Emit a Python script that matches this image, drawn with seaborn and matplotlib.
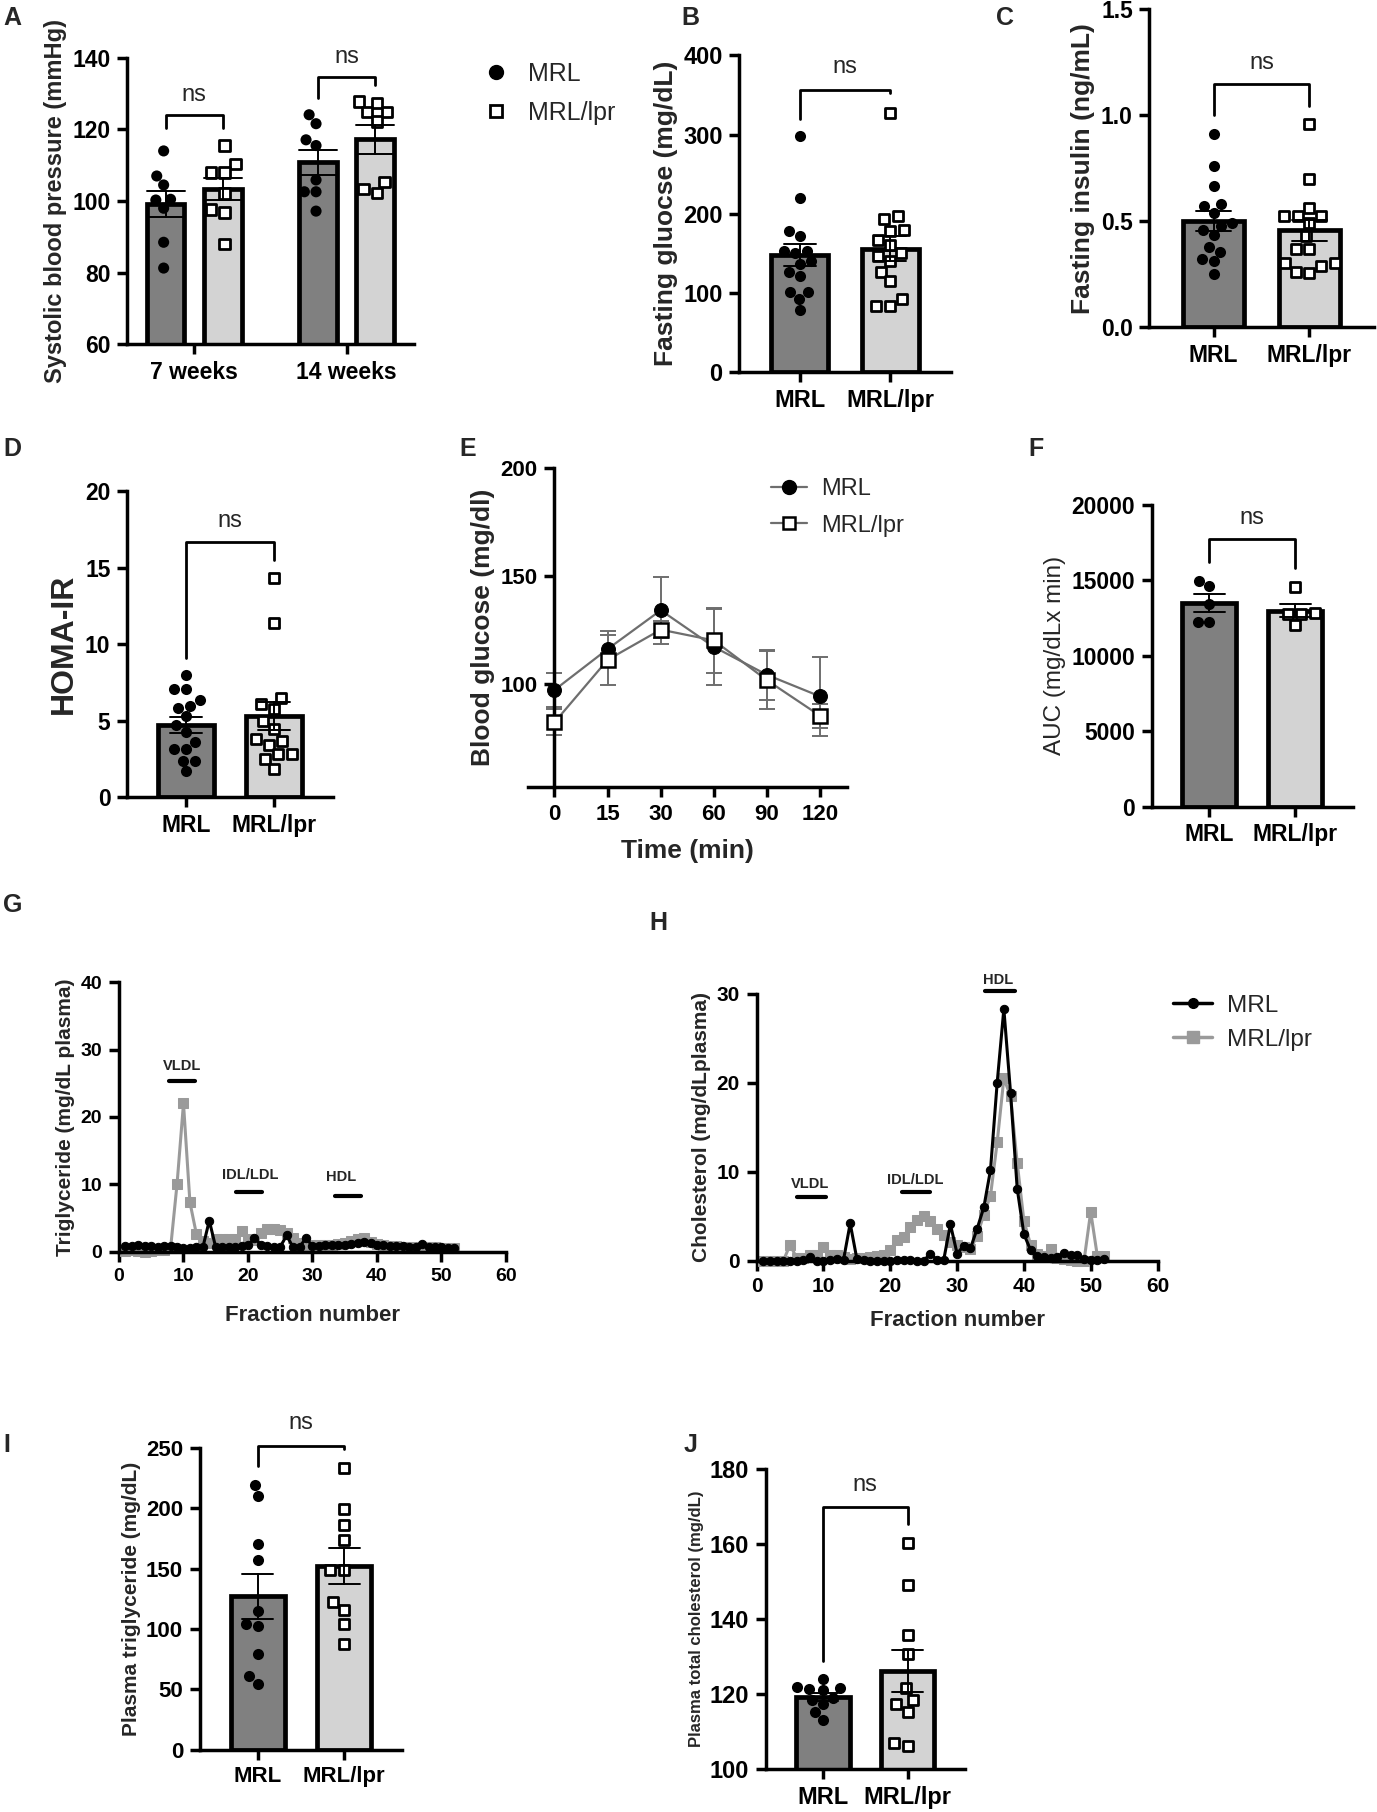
"""Recreation of the MRL vs MRL/lpr metabolic phenotype figure (panels A-J)"""

import numpy as np
import pandas as pd
import matplotlib
matplotlib.use('Agg')
import matplotlib.pyplot as plt
import seaborn as sns
from matplotlib import font_manager
from matplotlib.lines import Line2D

# ---- categories ----
groups = ['MRL', 'MRL/lpr']
weeks = ['7 weeks', '14 weeks']

# A: systolic blood pressure (mmHg)
bp_mrl_7wk = [114.0, 107.0, 104.5, 100.3, 100.5, 98.0, 88.5, 81.3]
bp_lpr_7wk = [115.5, 110.3, 108.0, 108.0, 102.1, 97.7, 96.8, 88.0]
bp_mrl_14wk = [124.1, 121.6, 117.1, 115.5, 105.9, 102.6, 102.6, 97.2]
bp_lpr_14wk = [127.8, 127.4, 124.8, 124.8, 122.2, 102.3, 105.4, 103.3]

# B: fasting glucose (mg/dL)
glucose_mrl = [298, 220, 178, 172, 153, 150, 153, 140, 137, 126, 101, 101, 92, 78, 121]
glucose_lpr = [327, 197, 193, 178, 180, 167, 160, 150, 147, 140, 127, 115, 92, 83, 84]

# C: fasting insulin (ng/mL)
insulin_mrl = [0.91, 0.76, 0.665, 0.58, 0.57, 0.54, 0.49, 0.475, 0.46, 0.435,
               0.38, 0.355, 0.32, 0.31, 0.25]
insulin_lpr = [0.96, 0.70, 0.56, 0.525, 0.525, 0.525, 0.49, 0.43, 0.37, 0.37,
               0.30, 0.30, 0.29, 0.255, 0.26]

# D: HOMA-IR
homa_mrl = [8.0, 7.05, 7.05, 6.35, 6.0, 5.85, 5.3, 4.7, 4.3, 3.6, 3.15, 3.15, 2.4, 2.4, 1.7]
homa_lpr = [14.3, 11.4, 6.5, 6.1, 5.75, 5.0, 4.45, 3.8, 3.7, 3.45, 2.8, 2.8, 2.5, 1.85]

# E: glucose tolerance test (mean, SEM)
gtt_times = ['0', '15', '30', '60', '90', '120']
gtt_mrl = [97, 116, 134, 117, 104, 94]
gtt_mrl_sem = [8, 8.5, 15.5, 17.5, 11.5, 18.5]
gtt_lpr = [82, 111, 125, 120, 101.5, 85]
gtt_lpr_sem = [6, 11.5, 4, 15, 13.5, 5.5]

# F: GTT area under curve
auc_mrl = [14970, 14660, 13460, 12240, 12240]
auc_lpr = [14570, 12800, 12850, 12750, 12020]

# G / H: FPLC fractions
fractions = list(range(1, 53))
tg_mrl = [0.8, 0.8, 0.9, 0.8, 0.8, 0.7, 0.8, 0.8, 0.6, 0.5,
          0.5, 0.6, 0.6, 4.6, 0.6, 0.6, 0.7, 0.7, 0.8, 0.9,
          2.0, 1.0, 0.8, 0.7, 0.7, 2.4, 0.6, 0.7, 2.0, 0.8,
          0.8, 0.9, 0.9, 1.0, 1.0, 1.1, 1.3, 1.4, 1.2, 1.0,
          0.9, 0.8, 0.8, 0.8, 0.7, 0.7, 1.1, 0.7, 0.6, 0.6,
          0.5, 0.5]
tg_lpr = [0.1, 0.2, 0.1, 0.0, 0.1, 0.2, 0.3, 0.5, 10.0, 22.0,
          7.3, 2.6, 1.5, 1.2, 1.8, 1.8, 1.9, 1.9, 3.0, 1.8,
          1.7, 2.8, 3.4, 3.4, 3.2, 2.7, 2.0, 1.2, 0.6, 0.9,
          0.9, 1.0, 1.0, 1.1, 1.2, 1.5, 1.9, 2.0, 1.4, 1.1,
          0.9, 0.8, 0.8, 0.7, 0.7, 0.6, 0.7, 0.6, 0.6, 0.5,
          0.5, 0.5]
chol_mrl = [0.0, 0.0, 0.0, 0.0, 0.0, 0.0, 0.1, 0.4, 0.0, 0.0,
            0.1, 0.2, 0.1, 4.2, 0.2, 0.1, 0.0, 0.0, 0.0, 0.0,
            0.1, 0.1, 0.1, 0.0, 0.0, 0.8, 0.1, 0.1, 4.1, 0.8,
            1.7, 1.4, 3.6, 6.0, 10.2, 20.0, 28.3, 18.9, 8.1, 3.0,
            1.2, 0.5, 0.4, 0.3, 0.4, 0.9, 0.7, 0.6, 0.2, 0.1,
            0.1, 0.2]
chol_lpr = [0.0, 0.0, 0.0, 0.0, 1.8, 0.3, 0.3, 0.6, 0.6, 1.5,
            0.7, 0.6, 0.4, 0.2, 0.3, 0.3, 0.4, 0.5, 0.7, 1.2,
            2.3, 2.7, 3.8, 4.6, 5.0, 4.5, 3.6, 2.9, 2.1, 1.8,
            1.5, 1.3, 2.8, 5.2, 7.3, 13.3, 20.5, 18.5, 11.0, 4.5,
            1.8, 0.8, 0.5, 1.3, 0.3, 0.2, 0.1, 0.0, 0.0, 5.5,
            0.5, 0.5]

# I: plasma triglyceride (mg/dL)
ptg_mrl = [219, 210, 170, 157, 115, 104.4, 102.2, 79, 60.8, 54.7]
ptg_lpr = [233.7, 199.2, 186.5, 173.5, 149.2, 149.2, 122.4, 115.5, 103.9, 87.8]

# J: plasma total cholesterol (mg/dL)
pchol_mrl = [124, 121, 121.5, 122, 121.3, 119, 117.5, 118.5, 115.3, 113]
pchol_lpr = [160.3, 149, 135.7, 130.6, 121.5, 118.5, 117.3, 115.3, 106.2, 107.1]

# ---- style ----
sns.set_theme(style='ticks')
available = {f.name for f in font_manager.fontManager.ttflist}
NORMAL = 'Liberation Sans' if 'Liberation Sans' in available else 'DejaVu Sans'
NARROW = 'Liberation Sans Narrow' if 'Liberation Sans Narrow' in available else NORMAL
plt.rcParams['font.family'] = [NORMAL, 'DejaVu Sans']
plt.rcParams.update({
    'axes.edgecolor': 'black',
    'axes.linewidth': 2.5,
    'xtick.color': 'black',
    'ytick.color': 'black',
    'xtick.major.width': 2.5,
    'ytick.major.width': 2.5,
    'xtick.major.size': 7,
    'ytick.major.size': 7,
})

DARK = '#808080'
LIGHT = '#d3d3d3'
LINE_GREY = '#9a9a9a'
bar_palette = {'MRL': DARK, 'MRL/lpr': LIGHT}

W, H = 1192.0, 1568.0


def rect(left, right, top, bottom):
    return [left / W, 1 - bottom / H, (right - left) / W, (bottom - top) / H]


def finish(ax, tick_size, family):
    sns.despine(ax=ax)
    ax.tick_params(axis='both', labelsize=tick_size, pad=5)
    for lab in ax.get_xticklabels() + ax.get_yticklabels():
        lab.set_fontweight('bold')
        lab.set_fontfamily(family)


def bracket(ax, x1, x2, top, left_end, right_end, text_y, size=17, family=None):
    ax.plot([x1, x1, x2, x2], [left_end, top, top, right_end],
            color='black', lw=2, clip_on=False, zorder=5)
    ax.text((x1 + x2) / 2, text_y, 'ns', ha='center', va='baseline',
            fontsize=size, family=family or NARROW, clip_on=False)


def scatter_points(ax, df, x, order, hue=None, dodge=False):
    mrl = df[df['group'] == 'MRL']
    lpr = df[df['group'] == 'MRL/lpr']
    common = dict(x=x, y='value', order=order, ax=ax, zorder=3, warn_thresh=1)
    if hue:
        common.update(hue='group', hue_order=groups, dodge=dodge, legend=False)
        sns.swarmplot(data=mrl, palette={'MRL': 'black', 'MRL/lpr': 'black'},
                      marker='o', size=8, **common)
        sns.swarmplot(data=lpr, palette={'MRL': 'white', 'MRL/lpr': 'white'},
                      marker='s', size=7.5, edgecolor='black', linewidth=2, **common)
    else:
        sns.swarmplot(data=mrl, color='black', marker='o', size=8, **common)
        sns.swarmplot(data=lpr, color='white', marker='s', size=7.5,
                      edgecolor='black', linewidth=2, **common)


def bar_panel(ax, mrl_vals, lpr_vals, ylim, yticks, ylabel, ylabel_size,
              tick_size, tick_family, ns, ylabel_weight='bold', ylabel_family=None):
    df = pd.DataFrame({
        'group': ['MRL'] * len(mrl_vals) + ['MRL/lpr'] * len(lpr_vals),
        'value': list(mrl_vals) + list(lpr_vals),
    })
    sns.barplot(data=df, x='group', y='value', hue='group', order=groups,
                hue_order=groups, palette=bar_palette, width=0.63,
                errorbar='se', capsize=0.36,
                err_kws={'color': 'black', 'linewidth': 1.4, 'zorder': 4},
                edgecolor='black', linewidth=3.4, legend=False, ax=ax)
    scatter_points(ax, df, 'group', groups)
    ax.set_xlim(-0.67, 1.67)
    ax.set_ylim(*ylim)
    ax.set_yticks(yticks)
    ax.set_xlabel('')
    ax.set_ylabel(ylabel, fontsize=ylabel_size, fontweight=ylabel_weight,
                  family=ylabel_family or NORMAL)
    finish(ax, tick_size, tick_family)
    xs = ax.get_xticks()
    bracket(ax, xs[0], xs[1], *ns)


fig = plt.figure(figsize=(13.77, 18.12), dpi=100)

# ---- A ----
axA = fig.add_axes(rect(110, 358, 50, 298))
dfA = pd.DataFrame({
    'week': ['7 weeks'] * 16 + ['14 weeks'] * 16,
    'group': ['MRL'] * 8 + ['MRL/lpr'] * 8 + ['MRL'] * 8 + ['MRL/lpr'] * 8,
    'value': bp_mrl_7wk + bp_lpr_7wk + bp_mrl_14wk + bp_lpr_14wk,
})
sns.barplot(data=dfA, x='week', y='value', hue='group', order=weeks,
            hue_order=groups, palette=bar_palette, width=0.75, gap=0.34,
            errorbar='se', capsize=0.5,
            err_kws={'color': 'black', 'linewidth': 1.4, 'zorder': 4},
            edgecolor='black', linewidth=3.4, legend=False, ax=axA)
scatter_points(axA, dfA, 'week', weeks, hue=True, dodge=True)
axA.set_xlim(-0.44, 1.44)
axA.set_ylim(60, 140)
axA.set_yticks([60, 80, 100, 120, 140])
axA.set_xlabel('')
axA.set_ylabel('Systolic blood pressure (mmHg)', fontsize=17, fontweight='bold')
finish(axA, 16.5, NARROW)
centers = sorted(p.get_x() + p.get_width() / 2 for p in axA.patches)
bracket(axA, centers[0], centers[1], 123.9, 120.4, 120.4, 127.8)
bracket(axA, centers[2], centers[3], 134.7, 128.8, 132.5, 138.6)
legA = [Line2D([], [], marker='o', ls='none', color='black', markersize=10),
        Line2D([], [], marker='s', ls='none', markerfacecolor='white',
               markeredgecolor='black', markeredgewidth=2, markersize=9)]
fig.legend(legA, groups, loc='upper left', bbox_to_anchor=(0.351, 0.966),
           frameon=False, handlelength=1, handletextpad=0.8, labelspacing=0.6,
           borderpad=0, borderaxespad=0,
           prop=font_manager.FontProperties(family=NARROW, size=18))

# ---- B ----
axB = fig.add_axes(rect(640, 823, 48, 322))
bar_panel(axB, glucose_mrl, glucose_lpr, (0, 400), [0, 100, 200, 300, 400],
          'Fasting gluocse (mg/dL)', 19, 17, NARROW, (356.8, 320, 352.6, 377.8))

# ---- C ----
axC = fig.add_axes(rect(995, 1189, 8, 283))
bar_panel(axC, insulin_mrl, insulin_lpr, (0, 1.5), [0, 0.5, 1.0, 1.5],
          'Fasting insulin (ng/mL)', 19, 16.5, NARROW, (1.147, 1.0, 1.044, 1.218))

# ---- D ----
axD = fig.add_axes(rect(110, 288, 425, 690))
bar_panel(axD, homa_mrl, homa_lpr, (0, 20), [0, 5, 10, 15, 20],
          'HOMA-IR', 23, 16.5, NARROW, (16.7, 9.1, 15.5, 17.68))

# ---- E ----
axE = fig.add_axes(rect(457, 733, 405, 681))
axE.errorbar(gtt_times, gtt_mrl, yerr=gtt_mrl_sem, fmt='none', ecolor='#6e6e6e',
             elinewidth=1.4, capsize=6, capthick=1.4, zorder=1)
axE.errorbar(gtt_times, gtt_lpr, yerr=gtt_lpr_sem, fmt='none', ecolor='#6e6e6e',
             elinewidth=1.4, capsize=6, capthick=1.4, zorder=1)
sns.lineplot(x=gtt_times, y=gtt_mrl, sort=False, color='#6e6e6e', lw=1.6,
             marker='o', markersize=10, markerfacecolor='black',
             markeredgecolor='black', ax=axE, zorder=3)
sns.lineplot(x=gtt_times, y=gtt_lpr, sort=False, color='#6e6e6e', lw=1.6,
             marker='s', markersize=10, markerfacecolor='white',
             markeredgecolor='black', markeredgewidth=1.8, ax=axE, zorder=4)
axE.set_xlim(-0.5, 5.5)
axE.set_ylim(52, 200)
axE.set_yticks([100, 150, 200])
axE.spines['left'].set_position(('data', 0))
axE.set_xlabel('Time (min)', fontsize=19, fontweight='bold', family=NARROW, labelpad=10)
axE.set_ylabel('Blood glucose (mg/dl)', fontsize=19, fontweight='bold')
finish(axE, 16, NARROW)
legE = [Line2D([], [], color='#6e6e6e', lw=1.6, marker='o', markersize=10,
               markerfacecolor='black', markeredgecolor='black'),
        Line2D([], [], color='#6e6e6e', lw=1.6, marker='s', markersize=9,
               markerfacecolor='white', markeredgecolor='black', markeredgewidth=1.8)]
fig.legend(legE, groups, loc='upper left', bbox_to_anchor=(0.560, 0.736),
           frameon=False, handlelength=1.5, handletextpad=0.6, labelspacing=0.6,
           borderpad=0, borderaxespad=0, prop={'size': 17})

# ---- F ----
axF = fig.add_axes(rect(997, 1171, 437, 698))
bar_panel(axF, auc_mrl, auc_lpr, (0, 20000), [0, 5000, 10000, 15000, 20000],
          'AUC (mg/dLx min)', 17.5, 16.5, NORMAL, (17740, 16190, 15790, 18736),
          ylabel_weight='normal')

# ---- G ----
axG = fig.add_axes(rect(103, 438, 850, 1083))
sns.lineplot(x=fractions, y=tg_lpr, color=LINE_GREY, lw=2.2, marker='s',
             markersize=7, markeredgecolor=LINE_GREY, ax=axG, clip_on=False)
sns.lineplot(x=fractions, y=tg_mrl, color='black', lw=2.2, marker='o',
             markersize=6, markeredgecolor='black', ax=axG, clip_on=False)
axG.set_xlim(0, 60)
axG.set_ylim(0, 40)
axG.set_xticks([0, 10, 20, 30, 40, 50, 60])
axG.set_yticks([0, 10, 20, 30, 40])
axG.set_xlabel('Fraction number', fontsize=16, fontweight='bold', labelpad=14)
axG.set_ylabel('Triglyceride (mg/dL plasma)', fontsize=15, fontweight='bold')
finish(axG, 14, NORMAL)
for label, tx, ty, x0, x1, by in [('VLDL', 9.8, 27.6, 7.7, 11.8, 25.3),
                                  ('IDL/LDL', 20.4, 11.3, 18.2, 22.2, 8.8),
                                  ('HDL', 34.5, 11.1, 33.5, 37.5, 8.2)]:
    axG.text(tx, ty, label, ha='center', va='center', fontsize=10.5, fontweight='bold')
    axG.plot([x0, x1], [by, by], color='black', lw=3)

# ---- H ----
axH = fig.add_axes(rect(655, 1002, 860, 1091))
sns.lineplot(x=fractions, y=chol_lpr, color=LINE_GREY, lw=2.2, marker='s',
             markersize=7, markeredgecolor=LINE_GREY, ax=axH, clip_on=False)
sns.lineplot(x=fractions, y=chol_mrl, color='black', lw=2.2, marker='o',
             markersize=6, markeredgecolor='black', ax=axH, clip_on=False)
axH.set_xlim(0, 60)
axH.set_ylim(0, 30)
axH.set_xticks([0, 10, 20, 30, 40, 50, 60])
axH.set_yticks([0, 10, 20, 30])
axH.set_xlabel('Fraction number', fontsize=16, fontweight='bold', labelpad=10)
axH.set_ylabel('Cholesterol (mg/dLplasma)', fontsize=15, fontweight='bold')
finish(axH, 15, NARROW)
for label, tx, ty, x0, x1, by in [('HDL', 36.2, 31.6, 34.2, 38.6, 30.3),
                                  ('VLDL', 8.0, 8.6, 6.1, 10.4, 7.2),
                                  ('IDL/LDL', 23.7, 9.1, 21.8, 26.0, 7.76)]:
    axH.text(tx, ty, label, ha='center', va='center', fontsize=10.5,
             fontweight='bold', clip_on=False)
    axH.plot([x0, x1], [by, by], color='black', lw=3, clip_on=False)
legH = [Line2D([], [], color='black', lw=2.5, marker='o', markersize=7),
        Line2D([], [], color=LINE_GREY, lw=2.5, marker='s', markersize=8)]
fig.legend(legH, groups, loc='upper left', bbox_to_anchor=(0.852, 0.451),
           frameon=False, handlelength=1.6, handletextpad=0.6, labelspacing=0.5,
           borderpad=0, borderaxespad=0, prop={'size': 17.5})

# ---- I ----
axI = fig.add_axes(rect(173, 348, 1253, 1514))
bar_panel(axI, ptg_mrl, ptg_lpr, (0, 250), [0, 50, 100, 150, 200, 250],
          'Plasma triglyceride (mg/dL)', 15, 16, NORMAL, (252, 234.8, 249, 266))

# ---- J ----
axJ = fig.add_axes(rect(663, 835, 1271, 1531))
bar_panel(axJ, pchol_mrl, pchol_lpr, (100, 180), [100, 120, 140, 160, 180],
          'Plasma total cholesterol (mg/dL)', 12, 17, NORMAL, (169.9, 128.8, 165.2, 174.1))

# ---- panel letters ----
for letter, x, y in [('A', 3, 5), ('B', 590, 5), ('C', 862, 5),
                     ('D', 3, 378), ('E', 398, 378), ('F', 890, 378),
                     ('G', 3, 773), ('H', 562, 788), ('I', 3, 1240), ('J', 592, 1240)]:
    fig.text(x / W, 1 - y / H, letter, ha='left', va='top', fontsize=18, fontweight='bold')

fig.savefig('out.png', dpi=100)
